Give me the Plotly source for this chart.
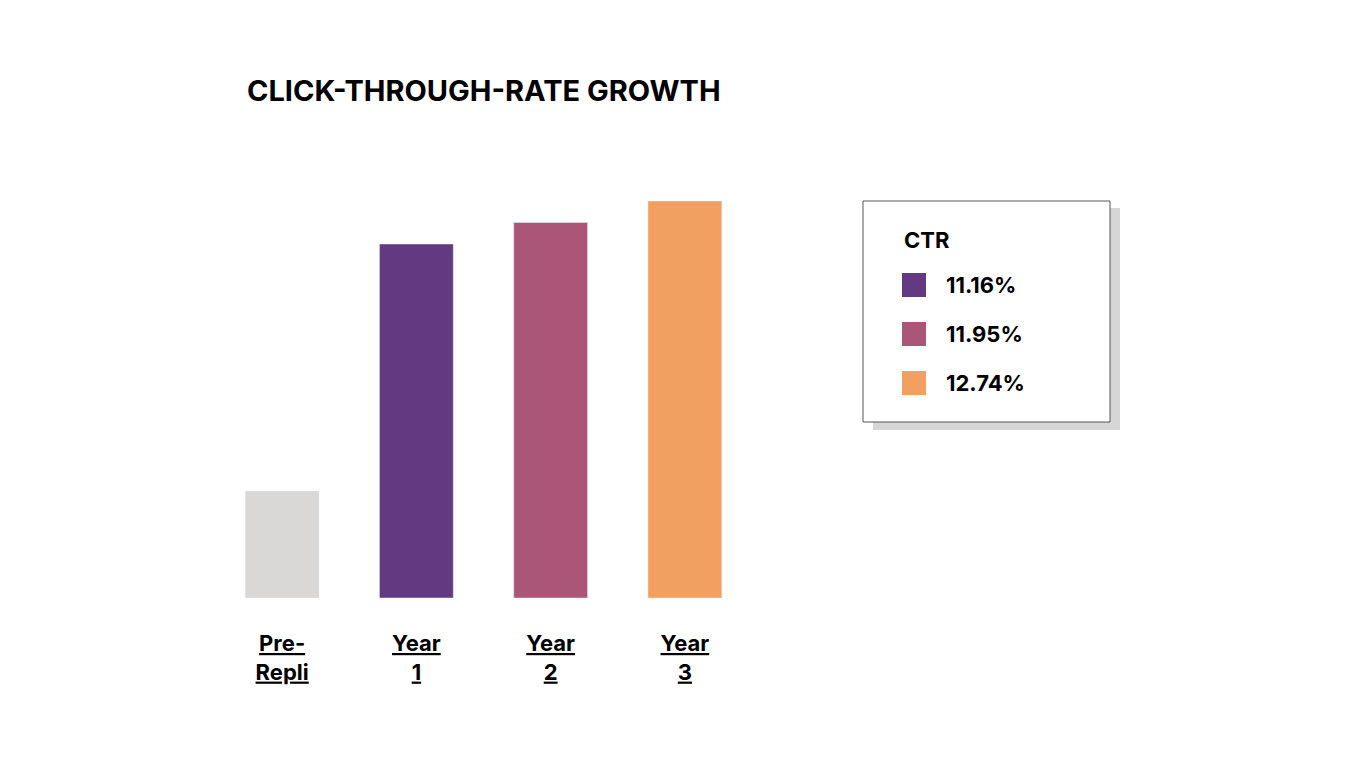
import plotly.graph_objects as go

categories = ["Pre-Repli", "Year 1", "Year 2", "Year 3"]
tick_labels = ["Pre-<br>Repli", "Year<br>1", "Year<br>2", "Year<br>3"]
values = [2.08, 11.16, 11.95, 12.74]
colors = ["#d9d8d6", "#633a82", "#ab5579", "#f2a061"]
legend_title = "CTR"
y_min = -1.85

W, H = 1366, 768
OFF = 8
def px(x): return (x - OFF) / W
def py(y): return 1 - (y - OFF) / H

fig = go.Figure(go.Bar(x=categories, y=[v - y_min for v in values], base=y_min,
                       marker_color=colors, width=0.55, customdata=values,
                       hovertemplate="%{x}: %{customdata}%<extra></extra>"))

fig.update_layout(
    width=W, height=H, margin=dict(l=0, r=0, t=0, b=0),
    plot_bgcolor="white", paper_bgcolor="white", showlegend=False,
    font=dict(family="Inter", color="black"),
    xaxis=dict(domain=[px(215), px(752)], tickvals=categories,
               ticktext=["<br>".join("<b><u>%s</u></b>" % p for p in t.split("<br>")) for t in tick_labels],
               tickfont=dict(size=22, family="Inter"), showline=False, ticks="", showgrid=False),
    yaxis=dict(domain=[py(598), py(201)], range=[y_min, max(values)], visible=False),
    annotations=[dict(text="<b>CLICK-THROUGH-RATE GROWTH</b>", x=px(245), y=py(91), xref="paper", yref="paper",
                      xanchor="left", yanchor="middle", showarrow=False, font=dict(size=29, family="Inter"))],
)
fig.update_xaxes(ticklabelstandoff=30)

shapes = [
    dict(type="rect", xref="paper", yref="paper", x0=px(873), x1=px(1120), y0=py(430), y1=py(208),
         fillcolor="#d6d6d6", line=dict(width=0), layer="below"),
    dict(type="rect", xref="paper", yref="paper", x0=px(863), x1=px(1110), y0=py(422), y1=py(201),
         fillcolor="white", line=dict(color="#555", width=1)),
]
ann = [dict(text="<b>%s</b>" % legend_title, x=px(902), y=py(240), xref="paper", yref="paper",
            xanchor="left", yanchor="middle", showarrow=False, font=dict(size=22))]
for i, (v, c) in enumerate(zip(values[1:], colors[1:])):
    yc = 285 + i * 49
    shapes.append(dict(type="rect", xref="paper", yref="paper", x0=px(902), x1=px(926),
                       y0=py(yc + 12), y1=py(yc - 12), fillcolor=c, line=dict(width=0)))
    ann.append(dict(text="<b>%.2f%%</b>" % v, x=px(944), y=py(yc), xref="paper", yref="paper",
                    xanchor="left", yanchor="middle", showarrow=False, font=dict(size=22)))
fig.update_layout(shapes=shapes)
for a in ann:
    fig.add_annotation(**a)

fig.write_html("out.html")
